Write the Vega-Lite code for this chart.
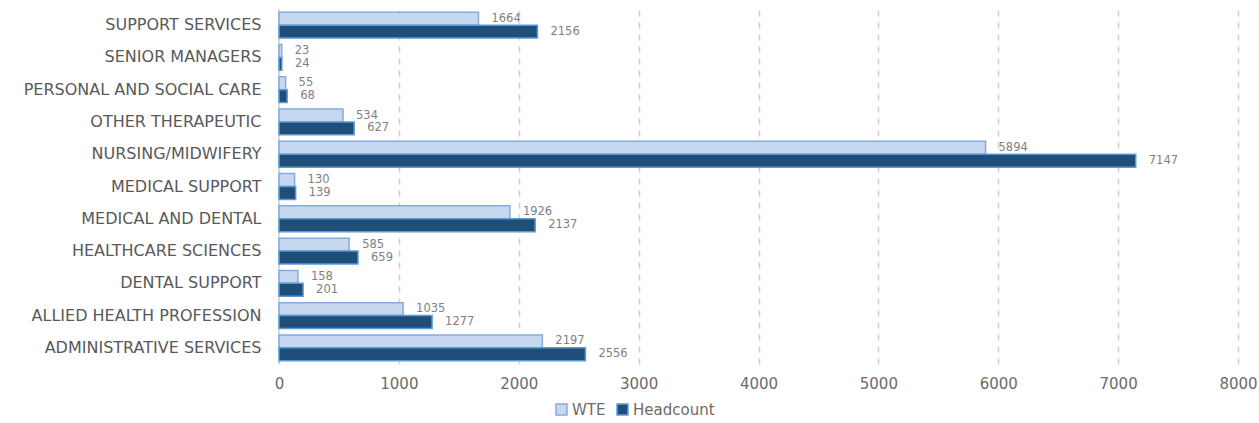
{
  "$schema": "https://vega.github.io/schema/vega-lite/v6.json",
  "autosize": "none",
  "padding": {"left": 279, "top": 9, "right": 21, "bottom": 59},
  "width": 959,
  "height": 355,
  "config": {
    "view": {"stroke": null},
    "font": "DejaVu Sans",
    "axis": {"labelFont": "DejaVu Sans", "titleFont": "DejaVu Sans"},
    "legend": {"labelFont": "DejaVu Sans"}
  },
  "data": {
    "values": [
      {"category": "SUPPORT SERVICES", "series": "WTE", "value": 1664},
      {"category": "SUPPORT SERVICES", "series": "Headcount", "value": 2156},
      {"category": "SENIOR MANAGERS", "series": "WTE", "value": 23},
      {"category": "SENIOR MANAGERS", "series": "Headcount", "value": 24},
      {"category": "PERSONAL AND SOCIAL CARE", "series": "WTE", "value": 55},
      {"category": "PERSONAL AND SOCIAL CARE", "series": "Headcount", "value": 68},
      {"category": "OTHER THERAPEUTIC", "series": "WTE", "value": 534},
      {"category": "OTHER THERAPEUTIC", "series": "Headcount", "value": 627},
      {"category": "NURSING/MIDWIFERY", "series": "WTE", "value": 5894},
      {"category": "NURSING/MIDWIFERY", "series": "Headcount", "value": 7147},
      {"category": "MEDICAL SUPPORT", "series": "WTE", "value": 130},
      {"category": "MEDICAL SUPPORT", "series": "Headcount", "value": 139},
      {"category": "MEDICAL AND DENTAL", "series": "WTE", "value": 1926},
      {"category": "MEDICAL AND DENTAL", "series": "Headcount", "value": 2137},
      {"category": "HEALTHCARE SCIENCES", "series": "WTE", "value": 585},
      {"category": "HEALTHCARE SCIENCES", "series": "Headcount", "value": 659},
      {"category": "DENTAL SUPPORT", "series": "WTE", "value": 158},
      {"category": "DENTAL SUPPORT", "series": "Headcount", "value": 201},
      {"category": "ALLIED HEALTH PROFESSION", "series": "WTE", "value": 1035},
      {"category": "ALLIED HEALTH PROFESSION", "series": "Headcount", "value": 1277},
      {"category": "ADMINISTRATIVE SERVICES", "series": "WTE", "value": 2197},
      {"category": "ADMINISTRATIVE SERVICES", "series": "Headcount", "value": 2556}
    ]
  },
  "encoding": {
    "y": {
      "field": "category",
      "type": "nominal",
      "sort": null,
      "scale": {"paddingInner": 0.2, "paddingOuter": 0.1},
      "axis": {
        "title": null,
        "domain": false,
        "ticks": false,
        "labelFontSize": 16,
        "labelColor": "#595959",
        "labelPadding": 18,
        "labelLimit": 0
      }
    },
    "yOffset": {
      "field": "series",
      "type": "nominal",
      "sort": ["WTE", "Headcount"],
      "scale": {"paddingInner": 0, "paddingOuter": 0}
    },
    "x": {
      "field": "value",
      "type": "quantitative",
      "scale": {"domain": [0, 8000], "nice": false},
      "axis": {
        "title": null,
        "values": [0, 1000, 2000, 3000, 4000, 5000, 6000, 7000, 8000],
        "format": "d",
        "grid": true,
        "gridDash": [6, 6],
        "gridColor": "#d0d0d0",
        "gridWidth": 1.5,
        "domain": false,
        "ticks": false,
        "labelFlush": false,
        "labelFontSize": 15,
        "labelColor": "#6b6b6b",
        "labelPadding": 12
      }
    }
  },
  "layer": [
    {
      "mark": {"type": "rule", "color": "#d0d0d0", "strokeWidth": 1.5},
      "data": {"values": [{"zero": 0}]},
      "encoding": {
        "x": {"field": "zero", "type": "quantitative"},
        "y": null,
        "yOffset": null
      }
    },
    {
      "mark": {"type": "bar", "strokeWidth": 1.5},
      "encoding": {
        "color": {
          "field": "series",
          "type": "nominal",
          "sort": ["WTE", "Headcount"],
          "scale": {"domain": ["WTE", "Headcount"], "range": ["#c6d8ef", "#1f4e79"]},
          "legend": {
            "title": null,
            "orient": "none",
            "direction": "horizontal",
            "legendX": 275,
            "legendY": 393,
            "symbolType": "square",
            "symbolSize": 120,
            "symbolStrokeWidth": 1.5,
            "labelFontSize": 15,
            "labelColor": "#6b6b6b",
            "columnPadding": 8,
            "labelOffset": 3
          }
        },
        "stroke": {
          "field": "series",
          "type": "nominal",
          "scale": {"domain": ["WTE", "Headcount"], "range": ["#86abdc", "#5b9bd5"]},
          "legend": null
        }
      }
    },
    {
      "mark": {"type": "text", "align": "left", "baseline": "middle", "dx": 13, "fontSize": 11.5, "color": "#7f7f7f"},
      "encoding": {"text": {"field": "value", "type": "quantitative", "format": "d"}}
    }
  ]
}
